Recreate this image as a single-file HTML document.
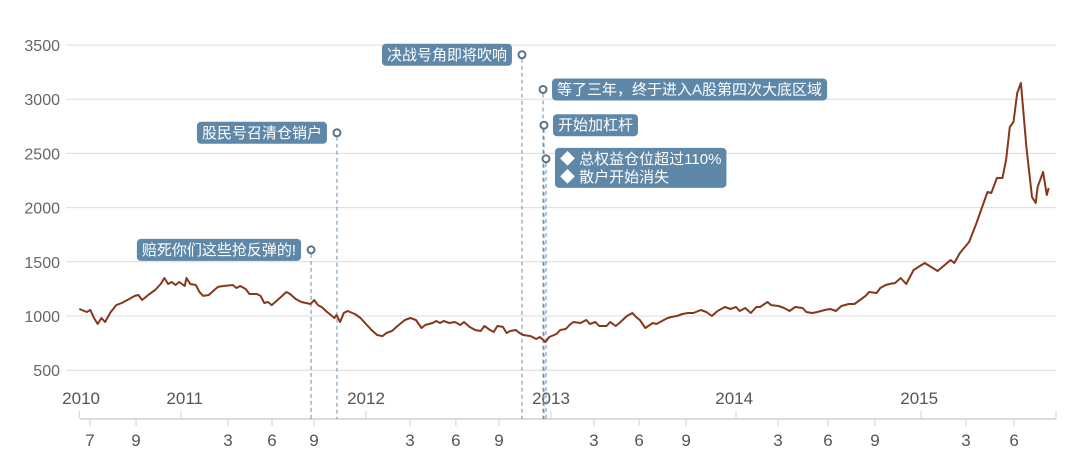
<!DOCTYPE html>
<html><head><meta charset="utf-8"><style>
body{margin:0;background:#fff;width:1080px;height:474px;overflow:hidden;font-family:"Liberation Sans","Noto Sans CJK SC",sans-serif}
svg{display:block}
</style></head><body>
<svg id="chart" width="1080" height="474" xmlns="http://www.w3.org/2000/svg"></svg>
<script>
const dates=[2010.45,2010.49,2010.51,2010.53,2010.55,2010.57,2010.59,2010.62,2010.65,2010.68,2010.71,2010.75,2010.77,2010.79,2010.83,2010.86,2010.89,2010.91,2010.93,2010.95,2010.97,2010.99,2011.02,2011.03,2011.05,2011.08,2011.10,2011.12,2011.15,2011.18,2011.20,2011.23,2011.28,2011.30,2011.32,2011.35,2011.37,2011.41,2011.43,2011.45,2011.47,2011.49,2011.51,2011.54,2011.57,2011.59,2011.62,2011.65,2011.70,2011.72,2011.74,2011.76,2011.79,2011.83,2011.84,2011.86,2011.88,2011.90,2011.94,2011.97,2012.00,2012.03,2012.06,2012.09,2012.11,2012.14,2012.17,2012.21,2012.24,2012.27,2012.30,2012.32,2012.36,2012.38,2012.40,2012.42,2012.45,2012.48,2012.51,2012.53,2012.56,2012.59,2012.62,2012.64,2012.67,2012.69,2012.71,2012.74,2012.76,2012.78,2012.81,2012.83,2012.85,2012.89,2012.92,2012.94,2012.97,2012.99,2013.03,2013.05,2013.08,2013.10,2013.12,2013.16,2013.19,2013.21,2013.24,2013.26,2013.30,2013.32,2013.35,2013.37,2013.41,2013.44,2013.46,2013.48,2013.51,2013.55,2013.57,2013.60,2013.63,2013.65,2013.68,2013.71,2013.74,2013.77,2013.81,2013.84,2013.87,2013.90,2013.94,2013.97,2014.00,2014.02,2014.05,2014.08,2014.11,2014.13,2014.17,2014.19,2014.23,2014.26,2014.29,2014.32,2014.36,2014.38,2014.41,2014.44,2014.48,2014.51,2014.54,2014.57,2014.61,2014.64,2014.67,2014.70,2014.72,2014.76,2014.78,2014.81,2014.83,2014.86,2014.89,2014.92,2014.96,2015.02,2015.09,2015.16,2015.18,2015.21,2015.26,2015.30,2015.35,2015.36,2015.38,2015.41,2015.44,2015.46,2015.48,2015.50,2015.52,2015.54,2015.57,2015.60,2015.62,2015.63,2015.66,2015.68,2015.69];
const values=[1065,1037,1055,982,926,982,945,1037,1101,1120,1148,1185,1194,1148,1203,1240,1295,1351,1295,1314,1286,1314,1277,1351,1295,1286,1221,1185,1194,1240,1268,1277,1286,1258,1277,1249,1203,1203,1185,1120,1129,1101,1129,1175,1221,1203,1157,1129,1111,1148,1101,1083,1037,982,1009,945,1028,1046,1018,982,926,871,825,815,843,862,908,963,982,963,889,917,935,954,935,954,935,945,917,945,899,871,862,908,871,852,908,899,843,862,871,843,825,815,788,806,760,806,834,871,880,917,945,935,963,926,945,908,908,945,908,935,1000,1028,991,963,889,935,926,954,982,991,1000,1018,1028,1028,1055,1037,1000,1046,1083,1065,1083,1046,1074,1028,1083,1083,1129,1101,1092,1074,1046,1083,1074,1037,1028,1037,1055,1065,1046,1092,1111,1111,1148,1185,1221,1212,1258,1286,1295,1304,1351,1295,1424,1489,1415,1517,1489,1581,1683,1858,2098,2144,2135,2273,2273,2439,2744,2790,3057,3149,2559,2098,2042,2190,2328,2116,2181];
const yTicks=[500,1000,1500,2000,2500,3000,3500];
const yearTicks=[2011,2012,2013,2014,2015];
const yearLabels=["2010","2011","2012","2013","2014","2015"];
const yearLabelPos=[2010.46,2011.02,2012.0,2013.0,2013.99,2014.99];
const monthTicks=[2010.508,2010.757,2011.254,2011.492,2011.719,2012.238,2012.486,2012.719,2013.232,2013.476,2013.730,2014.227,2014.497,2014.751,2015.243,2015.503];
const monthLabels=["7","9","3","6","9","3","6","9","3","6","9","3","6","9","3","6"];
const noteDates=[2011.703,2011.843,2012.843,2012.957,2012.962,2012.973];
const noteValues=[1610,2690,3410,3090,2760,2450];
const noteTexts=[["赔死你们这些抢反弹的!"],["股民号召清仓销户"],["决战号角即将吹响"],["等了三年，终于进入A股第四次大底区域"],["开始加杠杆"],["◆  总权益仓位超过110%","◆  散户开始消失"]];
const noteSide=["left","left","left","right","right","right"];

const NS="http://www.w3.org/2000/svg";
const svg=document.getElementById('chart');
const X=t=>181+(t-2011)*185;
const Y=v=>316-(v-1000)*54.2/500;
function el(tag,attrs,parent){const e=document.createElementNS(NS,tag);for(const k in attrs)e.setAttribute(k,attrs[k]);(parent||svg).appendChild(e);return e;}
yTicks.forEach(v=>{
  const g=el('line',{x1:66,x2:1056,y1:Y(v),y2:Y(v),stroke:'#dcdcdc','stroke-width':1});
  
  
  const t=el('text',{x:60,y:Y(v)+6,'text-anchor':'end','font-size':16,fill:'#666'});
  t.textContent=v;
  
  
});
const ax=el('line',{x1:80,x2:1056,y1:419,y2:419,stroke:'#d0d0d0','stroke-width':1.5});


[2010.45,2015.73].concat(yearTicks).forEach(t=>{
  const l=el('line',{x1:X(t),x2:X(t),y1:411,y2:419,stroke:'#d0d0d0'});
  
  
});
yearLabels.forEach((s,i)=>{
  const t=el('text',{x:X(yearLabelPos[i]),y:404,'text-anchor':'middle','font-size':17,fill:'#555'});
  t.textContent=s;
  
  
});
monthTicks.forEach((m,i)=>{
  const l=el('line',{x1:X(m),x2:X(m),y1:419,y2:426,stroke:'#d0d0d0'});
  
  
  const t=el('text',{x:X(m),y:446,'text-anchor':'middle','font-size':17,fill:'#555'});
  t.textContent=monthLabels[i];
  
  
});
noteDates.forEach((d,i)=>{
  const cx=X(d),cy=Y(noteValues[i]);
  const dl=el('line',{x1:cx,x2:cx,y1:cy+4,y2:419,stroke:'#6a8fb0','stroke-width':1,'stroke-dasharray':'4,3'});
  
  
  const lines=noteTexts[i];
  const h=lines.length*18+4;
  const by=cy-11;
  const r=el('rect',{x:0,y:by,width:10,height:h,rx:4,fill:'#5e87a8'});
  
  
  const texts=lines.map((s,j)=>{
    const t=el('text',{x:0,y:by+16+j*18,'font-size':15,fill:'#fff'});
    t.textContent=s;
    
    
    return t;
  });
  const w=Math.max(...texts.map(t=>t.getComputedTextLength()))+10;
  const bx=noteSide[i]==='left'?cx-10-w:cx+9;
  r.setAttribute('x',bx);r.setAttribute('width',w);
  texts.forEach(t=>t.setAttribute('x',bx+5));
  const c=el('circle',{cx:cx,cy:cy,r:3.5,fill:'#fff',stroke:'#5a7286','stroke-width':2});
  
  
});
const p=el('path',{d:dates.map((t,i)=>(i?'L':'M')+X(t).toFixed(1)+' '+Y(values[i]).toFixed(1)).join(' '),fill:'none',stroke:'#86381c','stroke-width':2,'stroke-linejoin':'round'});


</script>
</body></html>
